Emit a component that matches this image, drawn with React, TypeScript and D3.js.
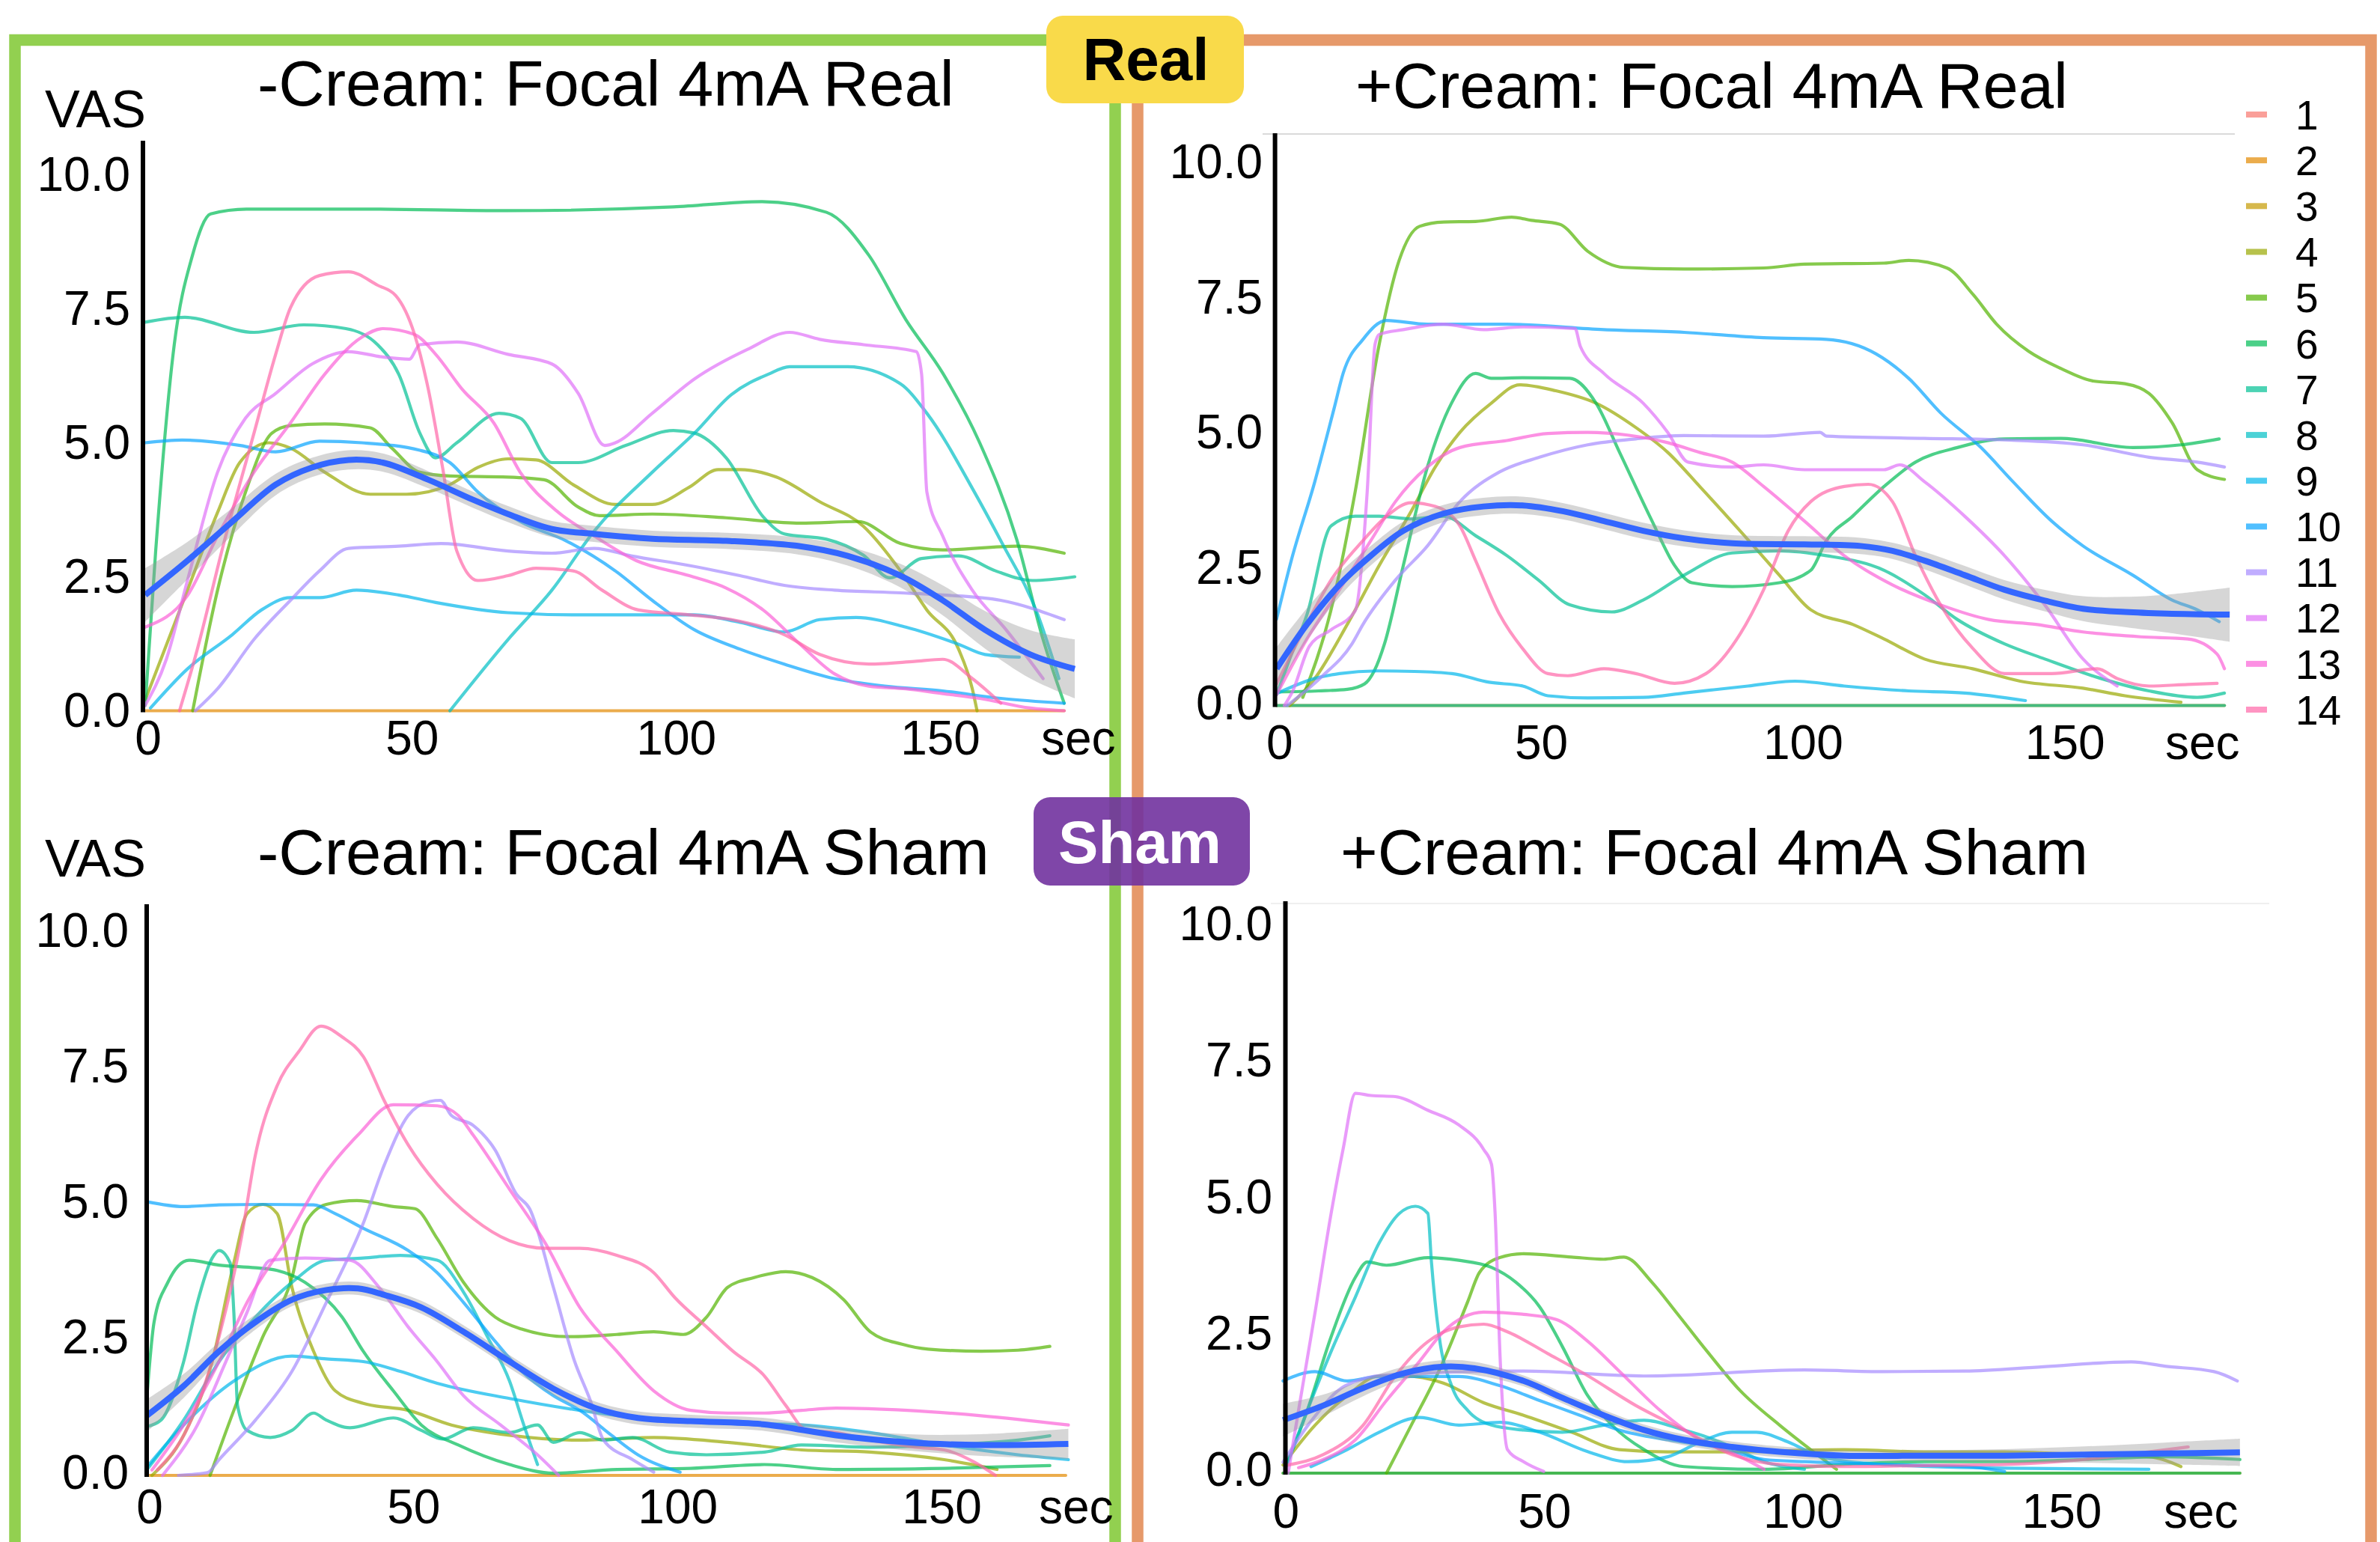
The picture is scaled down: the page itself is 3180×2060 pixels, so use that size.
import React from 'react';
import * as d3 from 'd3';

type Pt = [number, number];
type MPt = [number, number, number];
type Series = { id: number; pts: Pt[] };

const participantIds = [1, 2, 3, 4, 5, 6, 7, 8, 9, 10, 11, 12, 13, 14];
const participantColors = ['#F8766D', '#E38900', '#C49A00', '#99A800', '#53B400', '#00BC56', '#00C094', '#00BFC4', '#00B6EB', '#06A4FF', '#A58AFF', '#DF70F8', '#FB61D7', '#FF66A8'];
const yTicks = [0, 2.5, 5, 7.5, 10];
const xTicks = [0, 50, 100, 150];
const panelTitles = ['-Cream: Focal 4mA Real', '+Cream: Focal 4mA Real', '-Cream: Focal 4mA Sham', '+Cream: Focal 4mA Sham'];

// ---------- -Cream Real ----------
const tlSeries: Series[] = [
  { id: 2, pts: [[0, 0], [174, 0]] },
  { id: 4, pts: [[0, 0.2], [8, 2.25], [13.7, 3.7], [17.9, 4.63], [23.4, 5.0], [27.5, 4.9], [34, 4.45], [42.6, 4.04], [49.5, 4.04], [57.7, 4.22], [63, 4.54], [68.7, 4.7], [74, 4.68], [81, 4.22], [89, 3.85], [96, 3.85], [103, 4.17], [108.5, 4.5], [112.6, 4.5], [119.5, 4.36], [127.7, 3.9], [136, 3.44], [143, 2.61], [148, 1.88], [154, 1.15], [156.6, 0.41], [157.5, 0]] },
  { id: 5, pts: [[9, 0], [13.7, 2.25], [19, 4.08], [24, 5.18], [27.5, 5.32], [34, 5.35], [42.6, 5.28], [46.7, 4.9], [52, 4.45], [57.7, 4.38], [68.7, 4.36], [75.5, 4.31], [82, 3.8], [86, 3.64], [96, 3.67], [110, 3.6], [124, 3.5], [135, 3.53], [143, 3.12], [151, 3.0], [165, 3.07], [174, 2.94]] },
  { id: 6, pts: [[0, 0.1], [2, 3], [5.5, 6.83], [8.9, 8.48], [12.4, 9.27], [19.2, 9.36], [41, 9.36], [68.7, 9.33], [100, 9.4], [116.8, 9.5], [129, 9.3], [137, 8.5], [144, 7.3], [151, 6.3], [158, 5.0], [165, 3.2], [170, 1.33], [174, 0.14]] },
  { id: 7, pts: [[0, 7.25], [7.5, 7.34], [20.6, 7.06], [30, 7.2], [38, 7.13], [44, 6.83], [48, 6.28], [52, 5.18], [55, 4.72], [59, 5.0], [67, 5.55], [71, 5.46], [77, 4.63], [82, 4.63], [91, 4.95], [100, 5.23], [104, 5.18], [110, 4.72], [117, 3.62], [121, 3.3], [129, 3.2], [136, 2.9], [141, 2.48], [147, 2.84], [154, 2.89], [161, 2.61], [168, 2.43], [176, 2.5]] },
  { id: 8, pts: [[57.7, 0], [68.7, 1.33], [77, 2.25], [85, 3.35], [96, 4.45], [104, 5.18], [111, 5.9], [118, 6.28], [122, 6.42], [133, 6.42], [143, 6.1], [148, 5.55], [157, 4.08], [162, 3.17], [169, 1.79], [173, 0.6]] },
  { id: 9, pts: [[1, 0.05], [8, 0.78], [16.5, 1.42], [22, 1.88], [27.5, 2.11], [33, 2.11], [40, 2.25], [48, 2.16], [55, 2.02], [68.7, 1.83], [82, 1.79], [96, 1.79], [104, 1.79], [112.6, 1.65], [121, 1.47], [127.7, 1.7], [134.6, 1.74], [144, 1.56], [154, 1.24], [159, 1.05], [165.5, 1.0]] },
  { id: 10, pts: [[0, 5.0], [7, 5.05], [18, 4.95], [24.7, 4.83], [33, 5.03], [41, 5.0], [52, 4.86], [57.7, 4.63], [63, 4.08], [71, 3.53], [79.7, 3.17], [89, 2.61], [96, 2.06], [104, 1.51], [112.6, 1.15], [121, 0.87], [130.5, 0.6], [140, 0.46], [151, 0.37], [162, 0.23], [174, 0.14]] },
  { id: 11, pts: [[9.5, 0], [13.7, 0.41], [20.6, 1.33], [27.5, 2.06], [33, 2.61], [38.5, 3.03], [48, 3.07], [56, 3.12], [68.7, 2.98], [77, 2.94], [85, 3.03], [92, 2.89], [103, 2.71], [112.6, 2.52], [121, 2.34], [130.5, 2.25], [143, 2.2], [151, 2.16], [162, 2.06], [174, 1.7]] },
  { id: 12, pts: [[0, 0.1], [4, 0.96], [8, 2.43], [13.7, 4.45], [19, 5.46], [24.7, 5.92], [31.6, 6.47], [38.5, 6.7], [45, 6.6], [50, 6.56], [52, 6.83], [59, 6.88], [68.7, 6.65], [77, 6.47], [82, 5.92], [87, 4.95], [89, 5.0], [96, 5.55], [104, 6.19], [114, 6.74], [122, 7.06], [127.7, 6.93], [136, 6.83], [146, 6.7], [147, 6.28], [148, 4.08], [151, 3.26], [156.6, 2.25], [163, 1.51], [170, 0.6]] },
  { id: 13, pts: [[0, 1.56], [8, 2.15], [13.7, 3.26], [20.6, 4.45], [27.5, 5.37], [34, 6.28], [41, 6.97], [45, 7.13], [51, 7.02], [55, 6.65], [60, 6.0], [66, 5.37], [71, 4.45], [78, 3.72], [85, 3.26], [93, 2.8], [103, 2.52], [110, 2.29], [117, 1.88], [124, 1.24], [130.5, 0.69], [137, 0.46], [144, 0.41], [151, 0.32], [158, 0.23], [167.6, 0.05], [174, 0]] },
  { id: 14, pts: [[6.5, 0], [9.6, 1.05], [15, 3.17], [20.6, 5.18], [24.7, 6.65], [27.5, 7.52], [33, 8.12], [38.5, 8.19], [44, 7.94], [47.4, 7.75], [51, 7.02], [53.6, 6.0], [56.3, 4.54], [59, 2.98], [63, 2.43], [68.7, 2.52], [74, 2.66], [81, 2.61], [86.5, 2.25], [93.4, 1.88], [103, 1.79], [111, 1.7], [121, 1.42], [127.7, 1.05], [137, 0.87], [145.6, 0.92], [151, 0.96], [156.6, 0.6], [162, 0.14]] },
];
const tlMean: MPt[] = [[0, 2.16, 0.5], [8, 2.8, 0.35], [16.5, 3.53, 0.25], [24.7, 4.22, 0.2], [31.6, 4.54, 0.18], [38.5, 4.68, 0.18], [45, 4.63, 0.17], [53.6, 4.31, 0.16], [62, 3.94, 0.15], [68.7, 3.67, 0.15], [77, 3.39, 0.15], [85, 3.3, 0.15], [96, 3.21, 0.15], [110, 3.17, 0.15], [124, 3.07, 0.16], [133, 2.89, 0.18], [143, 2.52, 0.22], [151, 2.06, 0.28], [159, 1.51, 0.35], [167.6, 1.05, 0.45], [176, 0.78, 0.55]];

// ---------- +Cream Real ----------
const trSeries: Series[] = [
  { id: 2, pts: [[0, 0], [181, 0]] },
  { id: 7, pts: [[0, 0], [181, 0]] },
  { id: 4, pts: [[2.5, 0], [7.3, 0.5], [13.5, 1.5], [19.6, 2.59], [25.7, 3.59], [30.3, 4.41], [35, 5.05], [41, 5.59], [46.4, 5.93], [53.3, 5.82], [61, 5.59], [68.6, 5.14], [74.7, 4.68], [80.8, 4.05], [88.5, 3.23], [96, 2.41], [102, 1.77], [110, 1.5], [116, 1.23], [123.7, 0.86], [132.9, 0.68], [142, 0.45], [154, 0.32], [162, 0.18], [172.7, 0.06]] },
  { id: 5, pts: [[5, 0.15], [10.4, 1.77], [15, 3.95], [19.6, 6.68], [23.4, 8.23], [27.3, 8.86], [31.9, 8.94], [38, 8.95], [44.9, 9.03], [48.7, 8.97], [54, 8.9], [59.4, 8.4], [66.3, 8.1], [77.8, 8.07], [93, 8.09], [100.8, 8.16], [116, 8.18], [120.7, 8.23], [128, 8.09], [133, 7.6], [137.5, 7.05], [143.6, 6.55], [149.8, 6.23], [155.9, 6.0], [162, 5.95], [166.6, 5.77], [171, 5.23], [175.8, 4.36], [181, 4.18]] },
  { id: 6, pts: [[0, 0.25], [8, 0.27], [13.5, 0.3], [16.8, 0.4], [18.7, 0.65], [20.6, 1.14], [24.2, 2.59], [28.8, 4.41], [33.4, 5.59], [38, 6.14], [41, 6.05], [47, 6.06], [56, 6.05], [61, 5.59], [65.5, 4.68], [71.7, 3.41], [76, 2.59], [79.3, 2.27], [87, 2.2], [96, 2.27], [102, 2.5], [105, 3.05], [110, 3.5], [116, 4.05], [122, 4.5], [130, 4.77], [139, 4.93], [149.8, 4.94], [163.5, 4.77], [172.7, 4.82], [180, 4.93]] },
  { id: 7, pts: [[0, 0.2], [2.5, 0.86], [5.8, 1.68], [10.4, 3.32], [15, 3.5], [19.6, 3.5], [25.7, 3.45], [31.9, 3.5], [38, 3.14], [44, 2.77], [50, 2.32], [56, 1.86], [64, 1.73], [70, 1.95], [77.8, 2.41], [87, 2.82], [96, 2.86], [105, 2.77], [116, 2.5], [123.7, 2.05], [130, 1.59], [139, 1.14], [146.7, 0.86], [157.4, 0.5], [166.6, 0.27], [175.8, 0.15], [181, 0.23]] },
  { id: 9, pts: [[0, 0.22], [7.3, 0.5], [12, 0.59], [19.2, 0.64], [26.3, 0.63], [33.5, 0.59], [40.6, 0.43], [47, 0.36], [51.8, 0.18], [59.4, 0.14], [70, 0.15], [77.8, 0.23], [90, 0.36], [99, 0.45], [108.4, 0.36], [120.7, 0.27], [131.4, 0.23], [143, 0.09]] },
  { id: 10, pts: [[0, 1.6], [2.8, 2.68], [7.3, 4.14], [11, 5.5], [12.7, 6.14], [16.5, 6.77], [21, 7.12], [28.8, 7.05], [44, 7.05], [62.5, 6.95], [77.8, 6.9], [93, 6.8], [105, 6.77], [114.5, 6.5], [120.7, 6.05], [126.8, 5.41], [134.5, 4.77], [140.6, 4.14], [148, 3.41], [154, 2.95], [163.5, 2.41], [171, 1.95], [175.8, 1.77], [180, 1.55]] },
  { id: 11, pts: [[2, 0], [8.7, 0.54], [14.4, 1.14], [16.5, 1.5], [22.7, 2.32], [28.8, 2.95], [35, 3.77], [42.6, 4.32], [50.2, 4.59], [59.4, 4.82], [68.6, 4.93], [77.8, 4.99], [93, 4.98], [103.8, 5.05], [105, 4.98], [123.7, 4.94], [139, 4.91], [154, 4.82], [166.6, 4.59], [175.8, 4.5], [181, 4.41]] },
  { id: 12, pts: [[1.5, 0], [3, 0.25], [6.3, 1.1], [10.4, 1.4], [15, 1.75], [17.3, 3.95], [18.8, 6.68], [19.6, 6.86], [24.2, 6.95], [31.9, 7.05], [39.5, 6.95], [47, 7.0], [57, 6.97], [58, 6.64], [62.5, 6.14], [70, 5.59], [74.7, 5.05], [78.6, 4.5], [87, 4.41], [93, 4.45], [100.8, 4.36], [116, 4.36], [119, 4.45], [123.7, 4.14], [131.4, 3.5], [139, 2.77], [146.7, 1.86], [154, 0.86], [160.5, 0.36]] },
  { id: 13, pts: [[0, 0.2], [5.8, 1.23], [12, 2.14], [18, 3.05], [22.7, 3.77], [28.8, 4.41], [35, 4.77], [44, 4.9], [51.8, 5.03], [59.4, 5.05], [67, 5.0], [74.7, 4.86], [80.8, 4.68], [87, 4.5], [93, 4.05], [100.8, 3.41], [108.4, 2.77], [117.6, 2.23], [126.8, 1.86], [136, 1.59], [145, 1.5], [154, 1.36], [165, 1.27], [174, 1.23], [179.6, 0.95], [181, 0.68]] },
  { id: 14, pts: [[0, 0.4], [4.3, 1.23], [10.4, 2.32], [16.5, 3.05], [21, 3.5], [25.7, 3.75], [30.3, 3.68], [35, 3.32], [38, 2.68], [42.6, 1.68], [47, 1.05], [51.8, 0.59], [55.6, 0.55], [62.5, 0.68], [68.6, 0.59], [76, 0.41], [82, 0.59], [88.5, 1.32], [93, 2.14], [97.7, 3.23], [102, 3.77], [108.4, 4.05], [113, 4.09], [117.6, 3.77], [122, 2.77], [126.8, 1.86], [133, 1.05], [139, 0.59], [148, 0.59], [156.7, 0.68], [160.5, 0.5], [166.6, 0.36], [174, 0.39], [179.6, 0.41]] },
];
const trMean: MPt[] = [[0, 0.68, 0.4], [5.8, 1.5, 0.3], [12, 2.23, 0.22], [18, 2.77, 0.18], [24.2, 3.23, 0.17], [31.9, 3.55, 0.16], [39.5, 3.68, 0.16], [47, 3.7, 0.16], [54.8, 3.59, 0.15], [62.5, 3.41, 0.15], [70, 3.23, 0.15], [77.8, 3.09, 0.15], [87, 3.0, 0.15], [100.8, 2.98, 0.15], [111.5, 2.95, 0.15], [117.6, 2.86, 0.15], [123.7, 2.68, 0.16], [131.4, 2.41, 0.17], [139, 2.14, 0.18], [146.7, 1.94, 0.2], [154, 1.79, 0.23], [162, 1.73, 0.28], [170, 1.7, 0.35], [182, 1.68, 0.5]];

// ---------- -Cream Sham ----------
const blSeries: Series[] = [
  { id: 2, pts: [[0, 0], [174, 0]] },
  { id: 4, pts: [[1, 0], [7, 0.74], [12.4, 2.1], [16.5, 3.92], [19, 4.83], [22, 5.0], [24.7, 4.83], [27.5, 3.47], [31.6, 2.29], [35.7, 1.56], [41, 1.33], [49.5, 1.2], [57.7, 0.93], [68.7, 0.74], [82, 0.65], [96, 0.7], [110, 0.61], [124, 0.47], [137, 0.43], [151, 0.29], [161, 0.11]] },
  { id: 5, pts: [[12, 0], [16.5, 1.2], [22, 2.56], [27.5, 3.65], [30, 4.65], [34, 5.0], [39.8, 5.07], [46.7, 4.96], [50.8, 4.92], [55, 4.37], [60, 3.56], [66, 2.92], [71, 2.7], [79.7, 2.56], [89, 2.6], [96, 2.65], [101.6, 2.6], [106, 2.92], [110, 3.47], [115, 3.65], [121, 3.76], [126, 3.65], [132, 3.24], [137, 2.65], [143, 2.42], [148, 2.33], [158, 2.29], [165, 2.31], [171, 2.38]] },
  { id: 6, pts: [[0, 1.4], [1.4, 2.83], [4, 3.56], [8, 3.97], [13.7, 3.88], [20.6, 3.83], [24.7, 3.78], [30, 3.56], [37, 2.92], [41, 2.29], [46.7, 1.56], [52, 0.93], [59, 0.56], [68.7, 0.2], [77, 0.04], [89, 0.11], [103, 0.13], [117, 0.2], [130.5, 0.11], [151, 0.13], [171, 0.18]] },
  { id: 7, pts: [[0, 0.9], [2.7, 1.02], [7, 2.1], [9.6, 3.19], [12.4, 4.01], [13.7, 4.15], [15.8, 3.92], [16.5, 3.01], [17.2, 1.29], [19, 0.83], [23.4, 0.7], [27.5, 0.83], [31.6, 1.15], [34, 1.02], [38.5, 0.88], [46.7, 1.06], [52, 0.83], [56, 0.67], [61.8, 0.88], [68.7, 0.79], [74, 0.93], [77, 0.61], [82, 0.79], [86.5, 0.65], [92, 0.7], [99, 0.43], [106, 0.38], [117, 0.43], [124, 0.56], [137, 0.52], [151, 0.56], [165, 0.65], [171, 0.73]] },
  { id: 8, pts: [[0, 0.1], [7, 1.02], [13.7, 2.1], [20.6, 2.92], [27.5, 3.56], [34, 3.97], [41, 4.01], [48, 4.06], [55, 3.97], [60, 3.38], [64.5, 2.56], [68.7, 1.74], [71.4, 0.93], [74, 0.2]] },
  { id: 9, pts: [[0, 0.15], [7, 0.93], [16.5, 1.74], [27.5, 2.2], [34, 2.15], [41, 2.1], [48, 1.92], [55, 1.7], [68.7, 1.42], [82, 1.2], [96, 1.03], [110, 0.97], [124, 0.93], [137, 0.79], [151, 0.56], [165, 0.38], [174.5, 0.29]] },
  { id: 10, pts: [[0, 5.05], [7, 4.96], [13.7, 4.99], [22, 5.0], [31.6, 4.99], [35.7, 4.83], [41, 4.56], [49.5, 4.15], [55, 3.74], [60, 3.19], [66, 2.47], [71, 1.92], [77, 1.47], [82, 1.2], [88, 0.74], [93, 0.38], [101, 0.06]] },
  { id: 11, pts: [[6, 0], [11.5, 0.05], [13.7, 0.29], [20.6, 1.02], [27.5, 1.92], [34, 3.19], [41, 4.65], [45, 5.73], [49.5, 6.64], [53.6, 6.9], [55.6, 6.92], [57.7, 6.64], [61.8, 6.46], [66, 6.0], [70, 5.19], [72.5, 4.92], [77, 3.47], [81, 2.11], [84, 1.38], [86.5, 0.65], [92, 0.29], [96, 0.06]] },
  { id: 12, pts: [[3, 0], [9.6, 0.93], [15, 2.1], [19, 3.01], [23.4, 3.97], [30, 4.01], [38.5, 3.97], [44, 3.47], [49.5, 2.74], [55, 2.1], [60, 1.47], [67, 0.93], [74, 0.38], [78, 0]] },
  { id: 13, pts: [[1, 0.1], [7, 0.93], [13.7, 2.1], [19, 3.19], [26, 4.28], [33, 5.46], [40, 6.28], [46.7, 6.84], [55, 6.82], [59, 6.64], [61.8, 6.28], [68.7, 5.28], [75.5, 4.28], [82, 3.1], [89, 2.29], [96, 1.56], [103, 1.2], [110, 1.15], [117, 1.15], [124, 1.2], [130.5, 1.24], [144, 1.2], [158, 1.1], [174.5, 0.93]] },
  { id: 14, pts: [[2, 0.1], [8, 0.93], [13.7, 2.56], [17.9, 4.37], [20.6, 5.92], [24.7, 7.19], [28.8, 7.82], [33, 8.29], [37, 8.09], [41, 7.73], [45, 6.91], [49.5, 6.1], [55, 5.37], [61.8, 4.74], [68.7, 4.33], [75.5, 4.19], [82, 4.19], [89, 4.06], [96, 3.74], [100, 3.28], [106, 2.74], [111, 2.29], [117, 1.83], [121, 1.29], [125, 0.83], [130.5, 0.79], [137, 0.65], [145.6, 0.52], [151, 0.47], [156.6, 0.25], [160.7, 0]] },
];
const blMean: MPt[] = [[0, 1.1, 0.3], [7, 1.65, 0.22], [13.7, 2.29, 0.17], [20.6, 2.83, 0.14], [27.5, 3.24, 0.12], [34, 3.42, 0.12], [40, 3.45, 0.12], [45, 3.33, 0.12], [52, 3.1, 0.12], [60, 2.65, 0.12], [68.7, 2.1, 0.12], [77, 1.6, 0.12], [85, 1.24, 0.12], [93, 1.06, 0.12], [103, 1.0, 0.12], [117, 0.94, 0.12], [130.5, 0.74, 0.13], [144, 0.61, 0.15], [158, 0.56, 0.2], [174.5, 0.58, 0.28]];

// ---------- +Cream Sham ----------
const brSeries: Series[] = [
  { id: 2, pts: [[0, 0], [185, 0]] },
  { id: 6, pts: [[0, 0], [185, 0]] },
  { id: 4, pts: [[0, 0.15], [6.2, 0.88], [12.4, 1.42], [18.6, 1.78], [23.3, 1.78], [31, 1.65], [38.8, 1.29], [46.5, 1.06], [55.8, 0.75], [65, 0.43], [74.4, 0.39], [86.8, 0.39], [108.5, 0.43], [124, 0.39], [139.5, 0.39], [155, 0.34], [167.4, 0.3], [173.6, 0.12]] },
  { id: 5, pts: [[20, 0], [24.8, 0.88], [31, 2.05], [35.7, 3.14], [38, 3.68], [41.9, 3.95], [46.5, 4.02], [55.8, 3.96], [62, 3.92], [65.9, 3.96], [71.3, 3.5], [76, 2.95], [82, 2.23], [88.4, 1.51], [96, 0.88], [102, 0.43], [107, 0.07]] },
  { id: 6, pts: [[0.5, 0.1], [4.7, 1.15], [9.3, 2.5], [14, 3.59], [16.3, 3.87], [20, 3.81], [28, 3.95], [34, 3.9], [40.3, 3.77], [45, 3.5], [49.6, 3.05], [54, 2.32], [58.9, 1.42], [63.6, 0.88], [69.8, 0.43], [77.5, 0.12], [93, 0.07], [108.5, 0.16], [124, 0.21], [139.5, 0.21], [155, 0.25], [170.5, 0.3], [185, 0.25]] },
  { id: 8, pts: [[0.5, 0.1], [4.7, 1.15], [9.3, 2.23], [14, 3.23], [18.6, 4.22], [22.5, 4.76], [25.6, 4.89], [28, 4.76], [28.7, 3.86], [30.2, 2.5], [32.6, 1.6], [35.7, 1.15], [40.3, 0.88], [46.5, 0.79], [54, 0.75], [62, 0.88], [69.8, 0.97], [77.5, 0.79], [82, 0.66], [86.8, 0.48], [93, 0.21], [100.8, 0.07]] },
  { id: 9, pts: [[5.4, 0.12], [12.4, 0.43], [18.6, 0.75], [26.4, 1.02], [34, 0.88], [42, 0.93], [49.6, 0.75], [59, 0.39], [66.7, 0.21], [74.4, 0.3], [80.6, 0.57], [86.8, 0.75], [91.5, 0.75], [97.7, 0.57], [104, 0.3], [116, 0.16], [139.5, 0.09], [167.4, 0.07]] },
  { id: 10, pts: [[0, 1.69], [6.2, 1.86], [12.4, 1.69], [18.6, 1.77], [28, 1.77], [34, 1.77], [42, 1.6], [49.6, 1.33], [57.4, 1.06], [65, 0.79], [74.4, 0.61], [83.7, 0.48], [93, 0.25], [100.8, 0.21], [116, 0.16], [132, 0.12], [139.5, 0.03]] },
  { id: 11, pts: [[0, 0.2], [5, 0.9], [12, 1.6], [20, 1.8], [46.5, 1.87], [69.8, 1.78], [100.8, 1.89], [116, 1.86], [131.8, 1.87], [147, 1.95], [164, 2.04], [170.5, 1.96], [180, 1.86], [184.5, 1.69]] },
  { id: 12, pts: [[1, 0], [3, 1.15], [6.2, 2.95], [9.3, 4.76], [11.6, 5.93], [14, 6.96], [17, 6.92], [21.7, 6.9], [28, 6.65], [34, 6.38], [38.8, 5.93], [40.3, 5.66], [41, 4.76], [42, 2.05], [43.4, 0.43], [46.5, 0.21], [50.4, 0.03]] },
  { id: 13, pts: [[3, 0.1], [7.8, 0.25], [14, 0.61], [20, 1.33], [26.4, 2.05], [31, 2.59], [38.8, 2.95], [46.5, 2.91], [52.7, 2.82], [59, 2.41], [65, 1.87], [72.9, 1.15], [80.6, 0.61], [88.4, 0.3], [93, 0.07]] },
  { id: 14, pts: [[1, 0.15], [7.8, 0.34], [15.5, 0.88], [21.7, 1.78], [28, 2.41], [34, 2.68], [38.8, 2.73], [43.4, 2.59], [51.2, 2.19], [59, 1.78], [68.2, 1.24], [77.5, 0.79], [86.8, 0.34], [96, 0.16], [108.5, 0.12], [124, 0.14], [139.5, 0.16], [155, 0.25], [167.4, 0.39], [175, 0.48]] },
];
const brMean: MPt[] = [[0, 0.97, 0.3], [7.8, 1.24, 0.2], [15.5, 1.56, 0.15], [23.3, 1.83, 0.12], [31, 1.95, 0.12], [37, 1.92, 0.12], [46.5, 1.69, 0.1], [54, 1.38, 0.1], [62, 1.06, 0.1], [69.8, 0.79, 0.1], [77.5, 0.61, 0.1], [86.8, 0.48, 0.1], [96, 0.39, 0.1], [108.5, 0.32, 0.1], [124, 0.32, 0.1], [139.5, 0.32, 0.12], [155, 0.34, 0.15], [170.5, 0.36, 0.2], [185, 0.38, 0.25]];

// ---------- layout (positions / styles only) ----------
const FONT = "'Liberation Sans', Arial, Helvetica, sans-serif";
const layouts = [
  { series: tlSeries, mean: tlMean, x0: 194, pps: 7.057, y0: 949.5, y10: 233.5, axisX: 191, axisTop: 188, titleX: 344, titleY: 141, vasY: 170, yLabR: 174, yLabOff: -2, xLabY: 1008, secX: 1391, topLine: null as null | number[] },
  { series: trSeries, mean: trMean, x0: 1705.7, pps: 6.997, y0: 942.5, y10: 220, axisX: 1703.6, axisTop: 178, titleX: 1811, titleY: 144, vasY: null as null | number, yLabR: 1687, yLabOff: -5, xLabY: 1014, secX: 2893, topLine: [1687, 2986, 179, 0] },
  { series: blSeries, mean: blMean, x0: 196, pps: 7.057, y0: 1971, y10: 1247, axisX: 196, axisTop: 1208, titleX: 344, titleY: 1168, vasY: 1171, yLabR: 172, yLabOff: -5, xLabY: 2035, secX: 1388, topLine: null },
  { series: brSeries, mean: brMean, x0: 1714.3, pps: 6.911, y0: 1968, y10: 1239, axisX: 1717.5, axisTop: 1204, titleX: 1791, titleY: 1168, vasY: null, yLabR: 1700, yLabOff: -6, xLabY: 2041, secX: 2891, topLine: [1698, 3032, 1207, 1] },
];

function Panel({ idx }: { idx: number }) {
  const L = layouts[idx];
  const x = d3.scaleLinear().domain([0, 100]).range([L.x0, L.x0 + 100 * L.pps]);
  const y = d3.scaleLinear().domain([0, 10]).range([L.y0, L.y10]);
  const line = d3.line<Pt>().x((d) => x(d[0])).y((d) => y(d[1])).curve(d3.curveMonotoneX);
  const meanLine = d3.line<MPt>().x((d) => x(d[0])).y((d) => y(d[1])).curve(d3.curveCatmullRom.alpha(0.5));
  const ribbon = d3.area<MPt>().x((d) => x(d[0])).y0((d) => y(d[1] - d[2])).y1((d) => y(d[1] + d[2])).curve(d3.curveCatmullRom.alpha(0.5));
  return (
    <g>
      {L.topLine && (
        <line x1={L.topLine[0]} x2={L.topLine[1]} y1={L.topLine[2]} y2={L.topLine[2]} stroke={L.topLine[3] ? '#EFEFEF' : '#DADADA'} strokeWidth={2} />
      )}
      <text x={L.titleX} y={L.titleY} fontSize={85} fontFamily={FONT} fill="#000">{panelTitles[idx]}</text>
      {L.vasY !== null && (
        <text x={60} y={L.vasY} fontSize={70} fontFamily={FONT} fill="#000">VAS</text>
      )}
      {L.series.map((s, i) => (
        <path key={i} d={line(s.pts) || ''} fill="none" stroke={participantColors[s.id - 1]} strokeOpacity={0.7} strokeWidth={4.2} strokeLinejoin="round" strokeLinecap="round" />
      ))}
      <path d={ribbon(L.mean) || ''} fill="#999999" fillOpacity={0.4} stroke="none" />
      <path d={meanLine(L.mean) || ''} fill="none" stroke="#3366FF" strokeWidth={8} strokeLinejoin="round" />
      <line x1={L.axisX} x2={L.axisX} y1={L.axisTop} y2={L.y0 + 2} stroke="#000" strokeWidth={6} />
      {yTicks.map((v) => (
        <text key={v} x={L.yLabR} y={y(v) + L.yLabOff} dy="0.36em" textAnchor="end" fontSize={64} fontFamily={FONT} fill="#000">{v.toFixed(1)}</text>
      ))}
      {xTicks.map((t) => (
        <text key={t} x={x(t) + 4} y={L.xLabY} textAnchor="middle" fontSize={64} fontFamily={FONT} fill="#000">{t}</text>
      ))}
      <text x={L.secX} y={L.xLabY} fontSize={64} fontFamily={FONT} fill="#000">sec</text>
    </g>
  );
}

export default function App() {
  const legendY = d3.scaleLinear().domain([1, 14]).range([153, 948]);
  return (
    <svg width={3180} height={2060} viewBox="0 0 3180 2060" style={{ position: 'absolute', left: 0, top: 0, background: '#fff', display: 'block' }}>
      <rect x={0} y={0} width={3180} height={2060} fill="#fff" />
      {/* group frames */}
      <path d="M20,2100 L20,53.5 L1490,53.5 L1490,2100" fill="none" stroke="#92D050" strokeWidth={15.5} />
      <path d="M1520,2100 L1520,53.5 L3168,53.5 L3168,2100" fill="none" stroke="#E6996A" strokeWidth={15.5} />
      {[0, 1, 2, 3].map((i) => <Panel key={i} idx={i} />)}
      {/* legend */}
      {participantIds.map((id) => (
        <g key={id}>
          <line x1={3001} x2={3029} y1={legendY(id)} y2={legendY(id)} stroke={participantColors[id - 1]} strokeOpacity={0.7} strokeWidth={8} />
          <text x={3067} y={legendY(id)} dy="0.36em" fontSize={55} fontFamily={FONT} fill="#000">{id}</text>
        </g>
      ))}
      {/* badges */}
      <rect x={1398} y={21} width={264} height={117} rx={22} fill="#F9DA4A" />
      <text x={1531} y={107} textAnchor="middle" fontSize={80} fontWeight="bold" fontFamily={FONT} fill="#000">Real</text>
      <rect x={1381} y={1065} width={289} height={118} rx={22} fill="rgb(113,50,158)" fillOpacity={0.9} />
      <text x={1523} y={1153} textAnchor="middle" fontSize={80} fontWeight="bold" fontFamily={FONT} fill="#fff">Sham</text>
    </svg>
  );
}
